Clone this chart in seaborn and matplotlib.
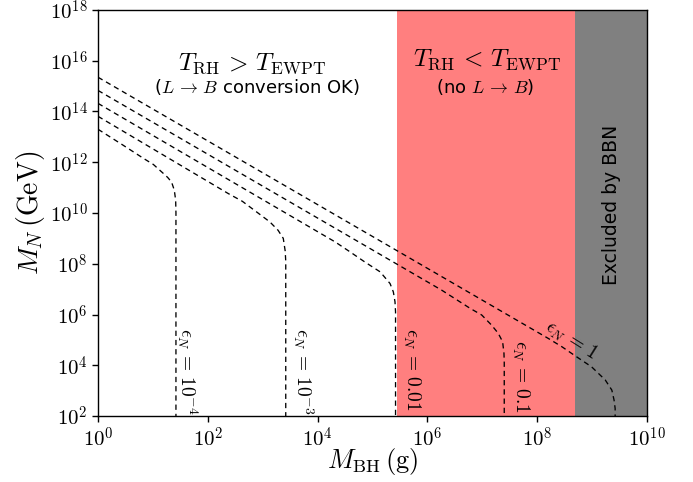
import numpy as np
import pandas as pd
import matplotlib
matplotlib.use("Agg")
import matplotlib.pyplot as plt
import matplotlib.ticker as mticker
import seaborn as sns

# curves, in log10 units: (log10 M_BH [g], log10 M_N [GeV])
eps_labels = [r"$\epsilon_N\,=\,10^{-4}$", r"$\epsilon_N\,=\,10^{-3}$", r"$\epsilon_N\,=\,0.01$",
              r"$\epsilon_N\,=\,0.1$", r"$\epsilon_N\,=\,1$"]
logx_e4 = [0.0, 0.43, 0.83, 1.01, 1.19, 1.27, 1.34, 1.39, 1.415, 1.42, 1.42]
logy_e4 = [13.30, 12.71, 12.15, 11.91, 11.56, 11.40, 11.22, 10.90, 10.50, 10.0, 2.0]
logx_e3 = [0.0, 2.37, 2.63, 2.89, 3.13, 3.28, 3.375, 3.41, 3.42, 3.42]
logy_e3 = [13.81, 10.77, 10.46, 10.04, 9.65, 9.32, 9.00, 8.50, 8.10, 2.0]
logx_e2 = [0.0, 4.32, 4.59, 4.86, 5.14, 5.32, 5.38, 5.41, 5.42, 5.42]
logy_e2 = [14.32, 8.86, 8.47, 8.07, 7.68, 7.22, 6.89, 6.50, 6.10, 2.0]
logx_e1 = [0.0, 6.26, 6.78, 6.99, 7.17, 7.29, 7.37, 7.395, 7.40, 7.40]
logy_e1 = [14.83, 6.96, 6.24, 5.98, 5.58, 5.26, 4.93, 4.47, 4.10, 2.0]
logx_e0 = [0.0, 8.20, 8.45, 8.72, 8.99, 9.24, 9.36, 9.40, 9.42, 9.42]
logy_e0 = [15.35, 5.06, 4.73, 4.33, 3.94, 3.42, 3.02, 2.63, 2.30, 2.0]

curves = [(logx_e4, logy_e4), (logx_e3, logy_e3), (logx_e2, logy_e2),
          (logx_e1, logy_e1), (logx_e0, logy_e0)]

# label anchor points (log10 units) and rotations
label_x = [1.62, 3.74, 5.72, 7.70, 8.62]
label_y = [3.77, 3.77, 3.85, 3.54, 4.99]
label_rot = [-90, -90, -90, -90, -32]

# shaded regions (M_BH in g)
ewpt_lo, ewpt_hi = 2.75e5, 4.9e8
bbn_hi = 1e10

sns.set_style("ticks")
plt.rcParams["font.family"] = ["DejaVu Sans"]
plt.rcParams["mathtext.fontset"] = "cm"
plt.rcParams["text.color"] = "k"
plt.rcParams["axes.labelcolor"] = "k"
plt.rcParams["xtick.color"] = "k"
plt.rcParams["ytick.color"] = "k"

fig = plt.figure(figsize=(6.93, 4.82), dpi=100)
ax = fig.add_axes([0.1414, 0.1369, 0.7922, 0.8424])

ax.axvspan(ewpt_lo, ewpt_hi, color="#ff7f7f", lw=0, zorder=0)
ax.axvspan(ewpt_hi, bbn_hi, color="#808080", lw=0, zorder=0)

for lx, ly in curves:
    df = pd.DataFrame({"M_BH": 10 ** np.array(lx), "M_N": 10 ** np.array(ly)})
    sns.lineplot(data=df, x="M_BH", y="M_N", sort=False, estimator=None, ax=ax,
                 color="k", lw=0.95, linestyle=(0, (4, 3)))

ax.set_xscale("log")
ax.set_yscale("log")
ax.set_xlim(1, 1e10)
ax.set_ylim(1e2, 1e18)
ax.set_xticks([10.0 ** k for k in range(0, 11, 2)])
ax.set_yticks([10.0 ** k for k in range(2, 19, 2)])
ax.minorticks_off()
pow_fmt = mticker.FuncFormatter(lambda v, pos: r"$10^{%d}$" % round(np.log10(v)))
ax.xaxis.set_major_formatter(pow_fmt)
ax.yaxis.set_major_formatter(pow_fmt)
ax.tick_params(labelsize=15, length=4, width=1, direction="out", top=False, right=False,
               colors="k")
for s in ax.spines.values():
    s.set_color("k")
    s.set_linewidth(1)

ax.set_xlabel(r"$M_{\rm BH}\,({\rm g})$", fontsize=19, labelpad=-3)
ax.set_ylabel(r"$M_N\,({\rm GeV})$", fontsize=20, labelpad=2)

for lab, x, y, r in zip(eps_labels, label_x, label_y, label_rot):
    ax.text(10 ** x, 10 ** y, lab, rotation=r, ha="center", va="center", fontsize=14)

ax.text(0.28, 0.867, r"$T_{\rm RH}\,>\,T_{\rm EWPT}$", transform=ax.transAxes,
        ha="center", va="center", fontsize=18)
ax.text(0.29, 0.81, r"($L\,\to\,B$ conversion OK)", transform=ax.transAxes,
        ha="center", va="center", fontsize=13)
ax.text(0.709, 0.877, r"$T_{\rm RH}\,<\,T_{\rm EWPT}$", transform=ax.transAxes,
        ha="center", va="center", fontsize=18)
ax.text(0.705, 0.81, r"(no $L\,\to\,B$)", transform=ax.transAxes,
        ha="center", va="center", fontsize=13)
ax.text(0.936, 0.52, "Excluded by BBN", transform=ax.transAxes, rotation=90,
        ha="center", va="center", fontsize=13.5)

fig.savefig("out.png", dpi=100)
